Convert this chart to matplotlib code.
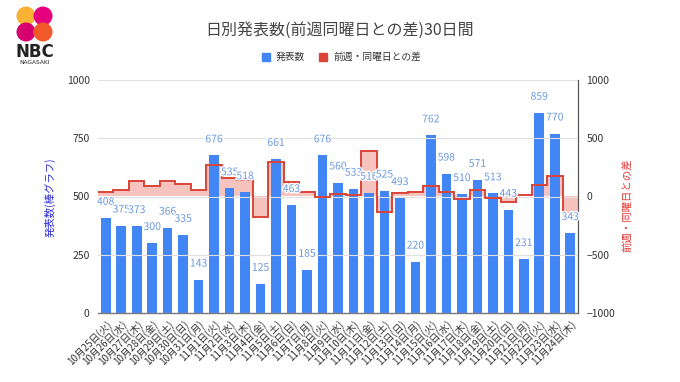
import matplotlib
matplotlib.use("Agg")
import matplotlib.pyplot as plt
import matplotlib.patheffects as pe
from matplotlib.patches import Circle
import numpy as np

plt.rcParams['font.family'] = ['Noto Sans CJK JP', 'DejaVu Sans']

dates = ["10月25日(火)", "10月26日(水)", "10月27日(木)", "10月28日(金)", "10月29日(土)",
         "10月30日(日)", "10月31日(月)", "11月1日(火)", "11月2日(水)", "11月3日(木)",
         "11月4日(金)", "11月5日(土)", "11月6日(日)", "11月7日(月)", "11月8日(火)",
         "11月9日(水)", "11月10日(木)", "11月11日(金)", "11月12日(土)", "11月13日(日)",
         "11月14日(月)", "11月15日(火)", "11月16日(水)", "11月17日(木)", "11月18日(金)",
         "11月19日(土)", "11月20日(日)", "11月21日(月)", "11月22日(火)", "11月23日(水)",
         "11月24日(木)"]
counts = [408, 375, 373, 300, 366, 335, 143,
          676, 535, 518, 125, 661, 463, 185,
          676, 560, 533, 516, 525, 493, 220,
          762, 598, 510, 571, 513, 443, 231,
          859, 770, 343]
diffs = [40, 55, 133, 88, 137, 110, 54,
         268, 160, 145, -175, 295, 128, 42,
         0, 25, 15, 391, -136, 30, 35,
         86, 38, -23, 55, -12, -50, 11,
         97, 172, -167]

left_ticks = [0, 250, 500, 750, 1000]
right_ticks = [-1000, -500, 0, 500, 1000]

BLUE = '#4285f4'
LABEL_BLUE = '#6a98e0'
RED = '#db4437'
FILL = '#f6c3be'

fig = plt.figure(figsize=(6.8, 3.82), dpi=100)
ax = fig.add_axes([98/680, 1-313/382, 480/680, 233/382])
ax2 = ax.twinx()
ax.set_zorder(ax2.get_zorder() + 1)
ax.patch.set_visible(False)

n = len(counts)
x = np.arange(n)
edges = np.arange(n + 1) - 0.5

# diff area on right axis (behind bars)
ax2.stairs(diffs, edges, baseline=0, fill=True, color=FILL, lw=0, zorder=1)
# bars
ax.bar(x, counts, width=0.62, color=BLUE, zorder=2)
# diff line on top of bars, drawn in right-axis coordinates
ax.stairs(diffs, edges, baseline=None, fill=False, color=RED, lw=1.4,
          transform=ax2.transData, zorder=3)

for xi, v in zip(x, counts):
    ax.annotate(str(v), (xi, v), xytext=(0, 8), textcoords='offset points',
                ha='center', va='bottom', fontsize=7.5, color=LABEL_BLUE, zorder=4,
                path_effects=[pe.withStroke(linewidth=2, foreground='white')])

ax.set_xlim(-0.5, n - 0.5)
ax.set_ylim(0, 1000)
ax2.set_ylim(-1000, 1000)
ax.set_yticks(left_ticks)
ax2.set_yticks(right_ticks)
ax.set_xticks(x)
ax.set_xticklabels(dates, rotation=45, ha='right', rotation_mode='anchor', fontsize=7, color='#333333')
ax.tick_params(axis='x', length=0, pad=4)
ax.tick_params(axis='y', length=0, labelsize=7.5, labelcolor='#333333', pad=6)
ax2.tick_params(axis='y', length=0, labelsize=7.5, labelcolor='#333333', pad=6)
ax.grid(axis='y', color='#e0e0e0', lw=0.8)
ax.set_axisbelow(False)
for a in (ax, ax2):
    for s in ('top', 'left'):
        a.spines[s].set_visible(False)
ax.spines['right'].set_visible(False)
ax2.spines['right'].set_color('#555555')
ax2.spines['right'].set_linewidth(0.9)
ax2.spines['bottom'].set_visible(False)
ax.spines['bottom'].set_color('#777777')
ax.spines['bottom'].set_linewidth(1.0)

fig.text(50/680, 1-197/382, '発表数(棒グラフ)', rotation=90, ha='center', va='center',
         fontsize=7.5, color='#2b2bd6')
fig.text(628/680, 1-205/382, '前週・同曜日との差', rotation=90, ha='center', va='center',
         fontsize=7.5, color='#e53935')

fig.text(340/680, 1-30/382, '日別発表数(前週同曜日との差)30日間', ha='center', va='center',
         fontsize=11.5, color='#444444')

# legend
fig.patches.append(plt.Rectangle(((266-4)/680, 1-61/382), 8/680, 8/382, transform=fig.transFigure,
                                 color=BLUE, figure=fig))
fig.text(276/680, 1-57/382, '発表数', ha='left', va='center', fontsize=7, color='#333333')
fig.patches.append(plt.Rectangle(((323-4)/680, 1-61/382), 8/680, 8/382, transform=fig.transFigure,
                                 color=RED, figure=fig))
fig.text(333/680, 1-57/382, '前週・同曜日との差', ha='left', va='center', fontsize=7, color='#333333')

# logo
lax = fig.add_axes([0, 1-75/382, 80/680, 75/382])
lax.set_xlim(0, 80)
lax.set_ylim(75, 0)
lax.axis('off')
for (cx, cy, col) in [(26, 16, '#f9b233'), (43, 16, '#e6007e'),
                      (26, 32, '#d6006f'), (43, 32, '#f05a28')]:
    lax.add_patch(Circle((cx, cy), 9.5, color=col, lw=0))
lax.text(34.5, 52, 'NBC', ha='center', va='center', fontsize=12, fontweight='bold',
         color='#222222', family='DejaVu Sans')
lax.text(34.5, 63, 'NAGASAKI', ha='center', va='center', fontsize=4.2, color='#222222',
         family='DejaVu Sans')

fig.savefig('out.png', dpi=100)
